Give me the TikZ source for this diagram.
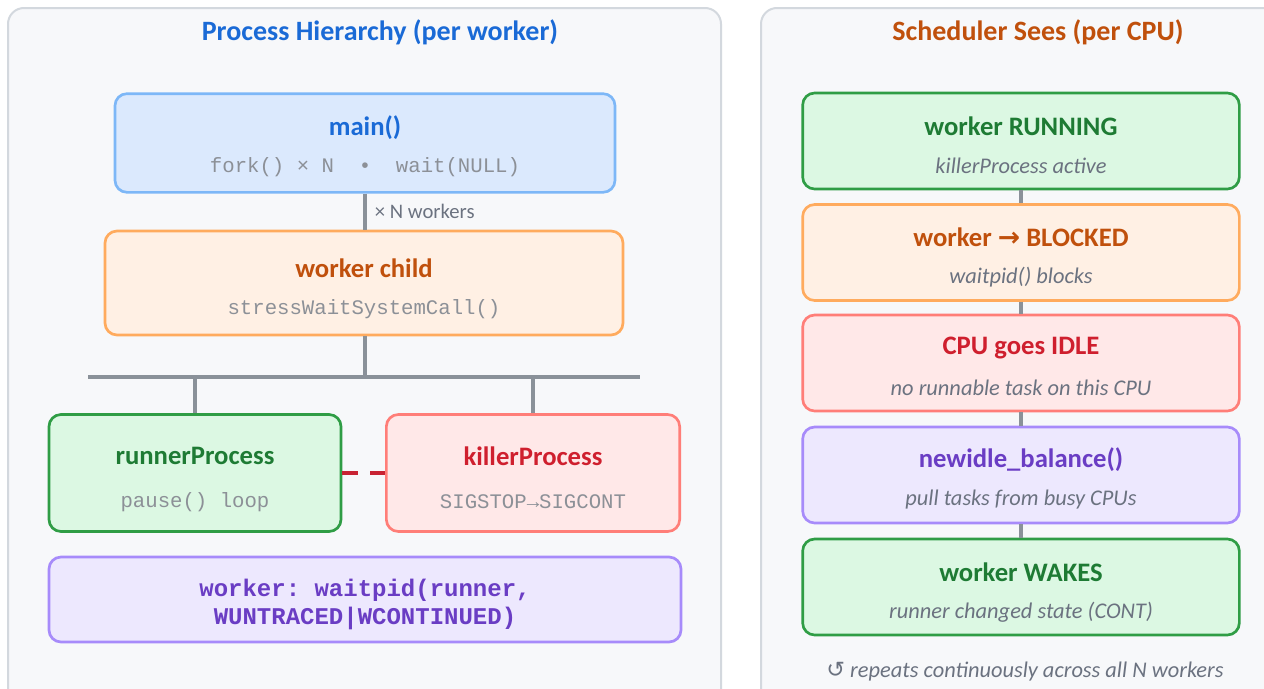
\documentclass[tikz,border=0pt]{standalone}
\usepackage{fontspec}
\setmainfont{Carlito}
\setmonofont{Liberation Mono}
\newfontfamily\symfont{DejaVu Sans}
\usepackage{tikz}
\usetikzlibrary{positioning}

\definecolor{panelbg}{HTML}{F7F8FA}
\definecolor{panelline}{HTML}{D3D8DE}
\definecolor{linkgray}{HTML}{8A9199}
\definecolor{codegray}{HTML}{8C9097}
\definecolor{notegray}{HTML}{6B7280}
\definecolor{bluetxt}{HTML}{1A6AD6}
\definecolor{bluefill}{HTML}{DBE9FD}
\definecolor{blueline}{HTML}{7DB7F7}
\definecolor{orgtxt}{HTML}{C0500C}
\definecolor{orgfill}{HTML}{FFF0E4}
\definecolor{orgline}{HTML}{FFAB5E}
\definecolor{grntxt}{HTML}{1E7B34}
\definecolor{grnfill}{HTML}{DCF8E3}
\definecolor{grnline}{HTML}{2F9D45}
\definecolor{redtxt}{HTML}{CF1F2E}
\definecolor{redfill}{HTML}{FFE8E8}
\definecolor{redline}{HTML}{FF7E78}
\definecolor{sigred}{HTML}{C82333}
\definecolor{purtxt}{HTML}{6A3DC4}
\definecolor{purfill}{HTML}{EDE8FE}
\definecolor{purline}{HTML}{A78BFA}

\tikzset{
  panel/.style={draw=panelline, fill=panelbg, line width=1.5pt, rounded corners=12pt},
  pbox/.style={rectangle, rounded corners=9pt, line width=2pt, inner sep=0pt},
  head/.style={font=\fontsize{21}{24}\selectfont\bfseries},
  ttl/.style={font=\fontsize{20}{23}\selectfont\bfseries},
  code/.style={font=\fontsize{15.5}{18}\selectfont\ttfamily, text=codegray},
  note/.style={font=\fontsize{16.8}{20}\selectfont\itshape, text=notegray},
  link/.style={draw=linkgray, line width=2.3pt},
}

\begin{document}
\begin{tikzpicture}[x=0.75pt,y=-0.75pt]
    \useasboundingbox (0,0) rectangle (1264,689);
    \clip (0,0) rectangle (1264,689);
    \fill[white] (0,0) rectangle (1264,689);

    % panels
    \draw[panel] (8,8) rectangle (721,710);
    \draw[panel] (761,8) rectangle (1290,710);
    \node[head, text=bluetxt] (lefthead) at (380,32) {Process Hierarchy (per worker)};
    \node[head, text=orgtxt] (righthead) at (1038,32) {Scheduler Sees (per CPU)};

    % process hierarchy
    \node[pbox, fill=bluefill, draw=blueline, minimum width=375pt, minimum height=74pt] (main) at (365,143) {};
    \node[ttl, text=bluetxt] (maint) at (365,128) {main()};
    \node[code] (mains) at (365,167.5) {fork()~×~N~~•~~wait(NULL)};

    \node[pbox, fill=orgfill, draw=orgline, minimum width=388.5pt, minimum height=78pt] (worker) at (364,283) {};
    \node[ttl, text=orgtxt] (workert) at (364,268) {worker child};
    \node[code] (workers) at (364,309) {stressWaitSystemCall()};

    \node[pbox, fill=grnfill, draw=grnline, minimum width=219pt, minimum height=87.75pt] (runner) at (195,473) {};
    \node[ttl, text=grntxt] (runnert) at (195,456) {runnerProcess};
    \node[code] (runners) at (195,502) {pause()~loop};

    \node[pbox, fill=redfill, draw=redline, minimum width=220pt, minimum height=87.75pt] (killer) at (533,473) {};
    \node[ttl, text=redtxt] (killert) at (533,456) {killerProcess};
    \node[code] (killers) at (533,502) {SIGSTOP→SIGCONT};

    \node[pbox, fill=purfill, draw=purline, minimum width=474pt, minimum height=63.75pt] (wait) at (365,599.5) {};
    \node[align=center, text=purtxt, font=\fontsize{18}{21}\selectfont\ttfamily\bfseries] (waitt) at (365,604)
        {worker: waitpid(runner,\\WUNTRACED|WCONTINUED)};

    \coordinate (busl) at (88,377);
    \coordinate (busr) at (640,377);
    \draw[link] (main.south) -- (main.south |- worker.north)
        node[midway, right=3pt, text=notegray, font=\fontsize{15.5}{18}\selectfont] (forkn) {× N workers};
    \draw[link] (worker.south -| main.south) -- (main.south |- busl);
    \draw[link] (busl) -- (busr);
    \draw[link] (runner.north |- busl) -- (runner.north);
    \draw[link] (killer.north |- busl) -- (killer.north);
    \draw[draw=sigred, line width=3pt, dash pattern=on 12pt off 9pt] (runner.east) -- (killer.west);

    % scheduler view
    \node[pbox, fill=grnfill, draw=grnline, minimum width=327.5pt, minimum height=72pt] (run) at (1021,141) {};
    \node[ttl, text=grntxt] (runt) at (1021,126) {worker RUNNING};
    \node[note] (runs) at (1021,166) {killerProcess active};

    \node[pbox, fill=orgfill, draw=orgline, minimum width=327.5pt, minimum height=72pt] (block) at (1021,252.5) {};
    \node[ttl, text=orgtxt] (blockt) at (1021,237.5) {worker {\symfont →} BLOCKED};
    \node[note] (blocks) at (1021,277) {waitpid() blocks};

    \node[pbox, fill=redfill, draw=redline, minimum width=327.5pt, minimum height=72pt] (idle) at (1021,363) {};
    \node[ttl, text=redtxt] (idlet) at (1021,348) {CPU goes IDLE};
    \node[note] (idles) at (1021,388) {no runnable task on this CPU};

    \node[pbox, fill=purfill, draw=purline, minimum width=327.5pt, minimum height=72pt] (bal) at (1021,475) {};
    \node[ttl, text=purtxt] (balt) at (1021,460) {newidle\_balance()};
    \node[note] (bals) at (1021,500) {pull tasks from busy CPUs};

    \node[pbox, fill=grnfill, draw=grnline, minimum width=327.5pt, minimum height=72pt] (wake) at (1021,587) {};
    \node[ttl, text=grntxt] (waket) at (1021,572) {worker WAKES};
    \node[note] (wakes) at (1021,612) {runner changed state (CONT)};

    \draw[link] (run.south) -- (block.north);
    \draw[link] (block.south) -- (idle.north);
    \draw[link] (idle.south) -- (bal.north);
    \draw[link] (bal.south) -- (wake.north);

    \node[note] (loop) at (1025,672) {{\symfont ↺} repeats continuously across all N workers};
\end{tikzpicture}
\end{document}
